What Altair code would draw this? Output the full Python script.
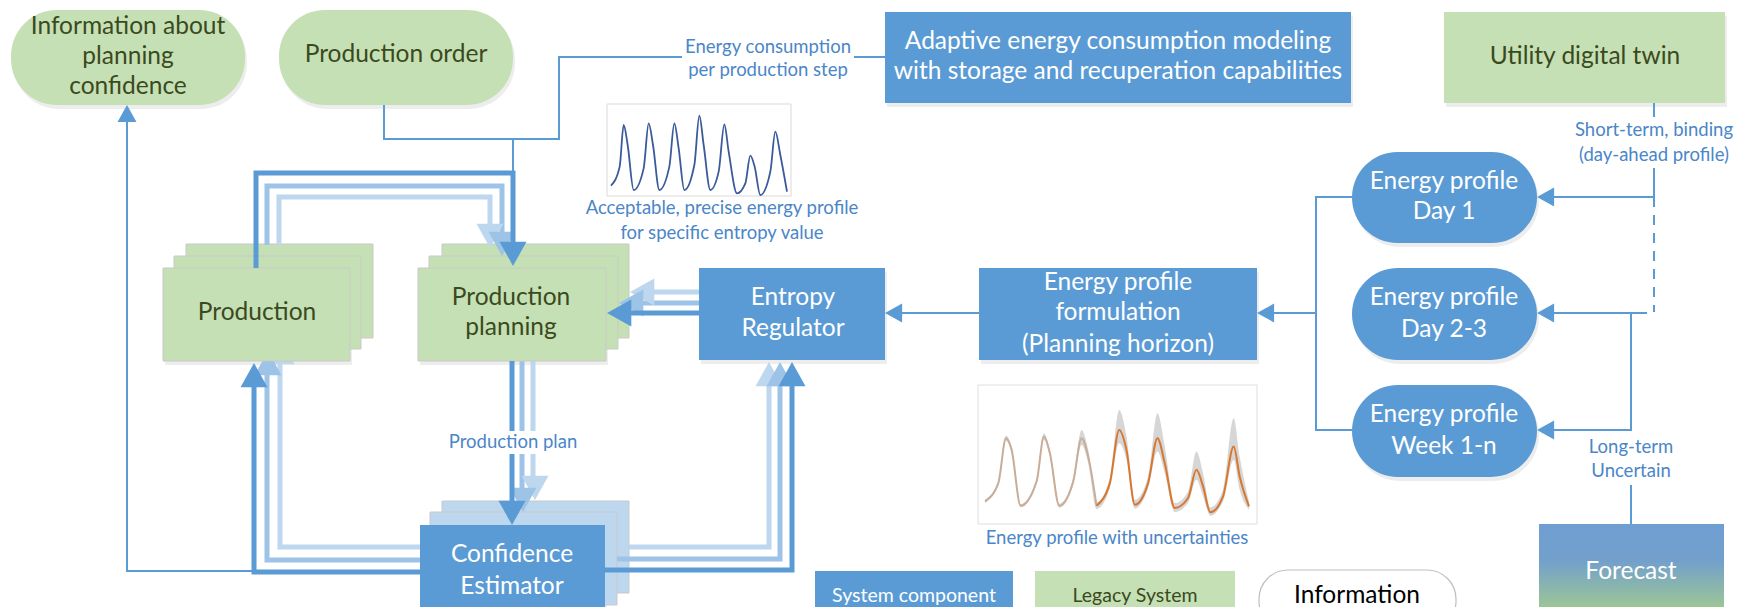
import altair as alt
import pandas as pd

W, H, M = 1752, 615, 8
PW, PH = W - 2 * M, H - 2 * M

BLUE = "#5b9bd5"
MIDB = "#9dc3e6"
LIGHTB = "#bdd7ee"
GREEN = "#c5e0b4"
DARKTXT = "#3b4a1e"
LABEL = "#4a86c8"
FONT = "Lato"

# ---------------- sparkline data ----------------
spark1_t = [0, 26, 38, 50, 68, 98, 113, 126, 145, 175, 190, 203, 220, 250, 265,
            278, 298, 323, 340, 353, 378, 403, 418, 431, 448, 478, 493, 508, 528]
spark1_v = [2.8, 8.5, 21, 15, 1.5, 8, 21.5, 15, 1.5, 8.5, 21.5, 14, 1.5, 9, 23.8,
            15, 1.5, 7, 21.2, 13, 0.5, 3.5, 11.8, 8.5, 0, 7, 19, 12, 1]

spark2_t = [0, 40, 63, 80, 107, 155, 177, 195, 223, 265, 290, 310, 335, 375, 403,
            425, 450, 490, 518, 540, 570, 610, 635, 655, 677, 715, 747, 765, 793]
spark2_v = [3.5, 9, 22.5, 19, 2.2, 9.5, 23, 18, 2.2, 9.5, 22.5, 17, 2.2, 9, 25,
            19, 2.5, 9, 22.5, 15, 1.5, 4.5, 13, 8, 0.2, 5, 20, 11, 2]
spark2_up = [0.5, 0.5, 0.8, 0.8, 0.5, 0.6, 1, 1, 0.6, 1, 2.5, 2, 1, 1.5, 6, 4,
             1.5, 2, 7.5, 5, 1.5, 2, 5.5, 4, 1.5, 2, 8.5, 6, 1.5]
spark2_dn = [0.5, 0.5, 0.8, 0.8, 0.5, 0.6, 1, 1, 0.6, 1, 2, 2, 1, 1.5, 4, 3,
             1.2, 1.5, 4, 3, 1.2, 1.5, 3, 3, 1, 1.5, 4, 4, 1]

# ---------------- diagram layout ----------------
rect_names = ["adaptive", "utility", "prod_b", "prod_m", "prod_f", "plan_b", "plan_m",
              "plan_f", "entropy", "formul", "conf_b", "conf_m", "conf_f",
              "frame1", "frame2", "leg_sys", "leg_legacy"]
rect_x1 = [885, 1444, 186, 174, 163, 442, 429, 418, 699, 979, 442, 430, 420, 607, 978, 815, 1035]
rect_x2 = [1351, 1725, 373, 361, 350, 629, 618, 606, 885, 1257, 629, 617, 605, 791, 1257, 1013, 1235]
rect_y1 = [12, 12, 244, 256, 268, 244, 256, 268, 268, 268, 501, 512, 525, 104, 385, 571, 571]
rect_y2 = [103, 103, 338, 349, 361, 338, 349, 361, 360, 360, 593, 605, 630, 196, 524, 630, 630]
rect_fill = [BLUE, GREEN, GREEN, GREEN, GREEN, GREEN, GREEN, GREEN, BLUE, BLUE,
             LIGHTB, LIGHTB, BLUE, "#ffffff", "#ffffff", BLUE, GREEN]
rect_stroke = ["none", "none", "#c9c9c9", "#c9c9c9", "#c9c9c9", "#c9c9c9", "#c9c9c9",
               "#c9c9c9", "none", "none", "#c9c9c9", "#c9c9c9", "none",
               "#d9d9d9", "#dedede", "none", "none"]
rect_shadow = [1, 1, 0, 0, 1, 0, 0, 1, 1, 1, 0, 0, 1, 0, 0, 0, 0]

pill_x1 = [11, 279, 1352, 1352, 1352]
pill_x2 = [245, 513, 1537, 1537, 1537]
pill_y1 = [10, 10, 152, 268, 385]
pill_y2 = [105, 105, 243, 360, 477]
pill_fill = [GREEN, GREEN, BLUE, BLUE, BLUE]

info_pill = dict(x1=1259, x2=1456, y1=570, y2=630)
forecast_box = dict(x1=1539, x2=1724, y1=524, y2=630)

thin_paths = [
    [(384, 105), (384, 139), (559, 139), (559, 57), (682, 57)],
    [(854, 57), (885, 57)],
    [(513, 139), (513, 173)],
    [(254, 571), (127, 571), (127, 118)],
    [(979, 313), (900, 313)],
    [(1352, 197), (1316, 197), (1316, 430), (1352, 430)],
    [(1316, 313), (1272, 313)],
    [(1654, 103), (1654, 117)],
    [(1654, 168), (1654, 197), (1552, 197)],
    [(1647, 313), (1552, 313)],
    [(1631, 313), (1631, 430), (1552, 430)],
    [(1631, 485), (1631, 524)],
]
dash_paths = [[(1654, 197), (1654, 312)]]

thick_paths = {
    LIGHTB: [
        [(279, 245), (279, 197), (490, 197), (490, 228)],
        [(533, 338), (533, 480)],
        [(420, 547), (280, 547), (280, 362)],
        [(629, 547), (769, 547), (769, 385)],
        [(699, 292), (650, 292)],
    ],
    MIDB: [
        [(267, 245), (267, 186), (502, 186), (502, 236)],
        [(522, 349), (522, 492)],
        [(420, 560), (267, 560), (267, 372)],
        [(617, 559), (780, 559), (780, 385)],
        [(699, 303), (640, 303)],
    ],
    BLUE: [
        [(256, 268), (256, 173), (513, 173), (513, 245)],
        [(512, 361), (512, 502)],
        [(420, 572), (254, 572), (254, 385)],
        [(605, 570), (792, 570), (792, 385)],
        [(699, 313), (628, 313)],
    ],
}

DOWN = "M0,0L-1,-1.8L1,-1.8Z"
UP = "M0,0L-1,1.8L1,1.8Z"
LEFT = "M0,0L1.8,-1L1.8,1Z"
head_x = [127, 885, 1257, 1537, 1537, 1537,
          490, 502, 513, 535, 523, 512, 281, 268, 254, 769, 780, 792, 630, 619, 607]
head_y = [105, 313, 313, 197, 313, 430,
          248, 256, 266, 500, 512, 525, 340, 351, 363, 362, 362, 362, 292, 303, 313]
head_dir = [UP, LEFT, LEFT, LEFT, LEFT, LEFT,
            DOWN, DOWN, DOWN, DOWN, DOWN, DOWN, UP, UP, UP, UP, UP, UP, LEFT, LEFT, LEFT]
head_col = [BLUE] * 6 + [LIGHTB, MIDB, BLUE] * 5
head_w = [19] * 6 + [27] * 15

box_text = ["Information about", "planning", "confidence", "Production order",
            "Adaptive energy consumption modeling", "with storage and recuperation capabilities",
            "Utility digital twin", "Production", "Production", "planning",
            "Entropy", "Regulator", "Energy profile", "formulation", "(Planning horizon)",
            "Energy profile", "Day 1", "Energy profile", "Day 2-3", "Energy profile", "Week 1-n",
            "Confidence", "Estimator", "Forecast"]
box_tx = [128, 128, 128, 396, 1118, 1118, 1585, 257, 511, 511, 793, 793, 1118, 1118, 1118,
          1444, 1444, 1444, 1444, 1444, 1444, 512, 512, 1631]
box_ty = [27, 57, 87, 55, 42, 72, 57, 313, 298, 328, 298, 329, 283, 313, 345,
          182, 212, 298, 330, 415, 447, 555, 587, 572]
box_tc = [DARKTXT] * 4 + ["#ffffff"] * 2 + [DARKTXT] * 4 + ["#ffffff"] * 14

lab_text = ["Energy consumption", "per production step", "Short-term, binding",
            "(day-ahead profile)", "Acceptable, precise energy profile",
            "for specific entropy value", "Production plan",
            "Energy profile with uncertainties", "Long-term", "Uncertain"]
lab_x = [768, 768, 1654, 1654, 722, 722, 513, 1117, 1631, 1631]
lab_y = [47, 70, 130, 155, 208, 233, 442, 538, 447, 471]

leg_text = ["System component", "Legacy System", "Information"]
leg_x = [914, 1135, 1357]
leg_y = [596, 596, 596]
leg_c = ["#ffffff", DARKTXT, "#000000"]
leg_fs = [19.5, 19.5, 24.5]


def xs():
    return alt.Scale(domain=[M, W - M], range=[0, PW])


def ys():
    return alt.Scale(domain=[M, H - M], range=[0, PH])


def rect_enc(ch):
    return ch.encode(
        x=alt.X("x1:Q", scale=xs(), axis=None), x2="x2:Q",
        y=alt.Y("y1:Q", scale=ys(), axis=None), y2="y2:Q")


def paths_df(paths):
    rows = []
    for pid, pts in enumerate(paths):
        for i, (px, py) in enumerate(pts):
            rows.append({"pid": pid, "i": i, "x": px, "y": py})
    return pd.DataFrame(rows)


def line_layer(paths, color, width, dash=None):
    kw = dict(color=color, strokeWidth=width, strokeJoin="miter", strokeCap="butt")
    if dash:
        kw["strokeDash"] = dash
    return alt.Chart(paths_df(paths)).mark_line(**kw).encode(
        x=alt.X("x:Q", scale=xs(), axis=None),
        y=alt.Y("y:Q", scale=ys(), axis=None),
        detail="pid:N", order="i:Q")


layers = []

rects = pd.DataFrame(dict(name=rect_names, x1=rect_x1, x2=rect_x2, y1=rect_y1, y2=rect_y2,
                          fill=rect_fill, stroke=rect_stroke, sh=rect_shadow))
pills = pd.DataFrame(dict(x1=pill_x1, x2=pill_x2, y1=pill_y1, y2=pill_y2, fill=pill_fill))

sh = rects[rects.sh == 1].copy()
sh[["x1", "x2"]] += 2
sh[["y1", "y2"]] += 4
layers.append(rect_enc(alt.Chart(sh).mark_rect(color="#000000", opacity=0.07)))
psh = pills.copy()
psh[["x1", "x2"]] += 2
psh[["y1", "y2"]] += 4
layers.append(rect_enc(alt.Chart(psh).mark_rect(color="#000000", opacity=0.07, cornerRadius=46)))

back_names = ["prod_b", "prod_m", "plan_b", "plan_m", "conf_b", "conf_m"]
back = rects[rects.name.isin(back_names)]
front = rects[~rects.name.isin(back_names)]


def rect_layer(df):
    return rect_enc(alt.Chart(df).mark_rect(strokeWidth=1)).encode(
        fill=alt.Fill("fill:N", scale=None), stroke=alt.Stroke("stroke:N", scale=None))


layers.append(rect_layer(back))
layers.append(line_layer(thick_paths[LIGHTB], LIGHTB, 5))
layers.append(line_layer(thick_paths[MIDB], MIDB, 5))

heads = pd.DataFrame(dict(x=head_x, y=head_y, shape=head_dir, color=head_col,
                          size=[w * w for w in head_w]))
head_light = heads[heads.color != BLUE]
head_main = heads[heads.color == BLUE]


def head_layer(df):
    return alt.Chart(df).mark_point(filled=True, opacity=1, strokeWidth=0).encode(
        x=alt.X("x:Q", scale=xs(), axis=None), y=alt.Y("y:Q", scale=ys(), axis=None),
        shape=alt.Shape("shape:N", scale=None), size=alt.Size("size:Q", scale=None),
        color=alt.Color("color:N", scale=None))


layers.append(head_layer(head_light))
layers.append(rect_layer(front))
layers.append(rect_enc(alt.Chart(pills).mark_rect(cornerRadius=46)).encode(
    fill=alt.Fill("fill:N", scale=None)))
layers.append(rect_enc(alt.Chart(pd.DataFrame([info_pill])).mark_rect(
    cornerRadius=29, fill="#ffffff", stroke="#bfbfbf", strokeWidth=1.2)))
grad = alt.LinearGradient(gradient="linear", x1=0, x2=0, y1=0, y2=1, stops=[
    alt.GradientStop(color="#6f9ed2", offset=0),
    alt.GradientStop(color="#73a0cb", offset=0.35),
    alt.GradientStop(color="#a4cd8b", offset=0.87),
    alt.GradientStop(color="#a4cd8b", offset=1)])
layers.append(rect_enc(alt.Chart(pd.DataFrame([forecast_box])).mark_rect(fill=grad)))

layers.append(line_layer(thick_paths[BLUE], BLUE, 5))
layers.append(line_layer(thin_paths, BLUE, 2))
layers.append(line_layer(dash_paths, BLUE, 2, dash=[10, 8]))
layers.append(head_layer(head_main))

layers.append(rect_enc(alt.Chart(pd.DataFrame([dict(x1=442, x2=584, y1=431, y2=454)])).mark_rect(
    color="#ffffff")))

s1 = pd.DataFrame(dict(t=spark1_t, v=spark1_v))
layers.append(alt.Chart(s1).mark_line(color="#3a5a9a", strokeWidth=1.8, interpolate="monotone").encode(
    x=alt.X("t:Q", scale=alt.Scale(domain=[0, 528], range=[611 - M, 787 - M]), axis=None),
    y=alt.Y("v:Q", scale=alt.Scale(domain=[0, 24], range=[195 - M, 115 - M]), axis=None)))

s2 = pd.DataFrame(dict(t=spark2_t, v=spark2_v))
s2["hi"] = [v + u for v, u in zip(spark2_v, spark2_up)]
s2["lo"] = [v - d for v, d in zip(spark2_v, spark2_dn)]
s2a = s2[s2.index <= 12].copy()
s2b = s2[s2.index >= 12].copy()
x2s = alt.Scale(domain=[0, 793], range=[985 - M, 1249 - M])
y2s = alt.Scale(domain=[0, 31], range=[513 - M, 410 - M])
layers.append(alt.Chart(s2).mark_area(color="#cfcfcf", opacity=0.85, interpolate="monotone").encode(
    x=alt.X("t:Q", scale=x2s, axis=None), y=alt.Y("lo:Q", scale=y2s, axis=None), y2="hi:Q"))
layers.append(alt.Chart(s2a).mark_line(color="#c9ad98", strokeWidth=2, interpolate="monotone").encode(
    x=alt.X("t:Q", scale=x2s, axis=None), y=alt.Y("v:Q", scale=y2s, axis=None)))
layers.append(alt.Chart(s2b).mark_line(color="#d8772f", strokeWidth=2, interpolate="monotone").encode(
    x=alt.X("t:Q", scale=x2s, axis=None), y=alt.Y("v:Q", scale=y2s, axis=None)))

bt = pd.DataFrame(dict(x=box_tx, y=box_ty, text=box_text, c=box_tc))
layers.append(alt.Chart(bt).mark_text(font=FONT, fontSize=24.5, baseline="middle", align="center").encode(
    x=alt.X("x:Q", scale=xs(), axis=None), y=alt.Y("y:Q", scale=ys(), axis=None),
    text="text:N", color=alt.Color("c:N", scale=None)))
lt = pd.DataFrame(dict(x=lab_x, y=lab_y, text=lab_text))
layers.append(alt.Chart(lt).mark_text(font=FONT, fontSize=18.5, baseline="middle", align="center",
                                      color=LABEL).encode(
    x=alt.X("x:Q", scale=xs(), axis=None), y=alt.Y("y:Q", scale=ys(), axis=None), text="text:N"))
gt = pd.DataFrame(dict(x=leg_x, y=leg_y, text=leg_text, c=leg_c, fs=leg_fs))
layers.append(alt.Chart(gt).mark_text(font=FONT, baseline="middle", align="center").encode(
    x=alt.X("x:Q", scale=xs(), axis=None), y=alt.Y("y:Q", scale=ys(), axis=None),
    text="text:N", color=alt.Color("c:N", scale=None), size=alt.Size("fs:Q", scale=None)))

chart = alt.layer(*layers).resolve_scale(x="independent", y="independent").properties(
    width=PW, height=PH, padding=0, autosize=alt.AutoSizeParams(type="none"),
    background="#ffffff").configure_view(stroke=None)

chart.save("out.html", embed_options={"renderer": "svg", "actions": False})
